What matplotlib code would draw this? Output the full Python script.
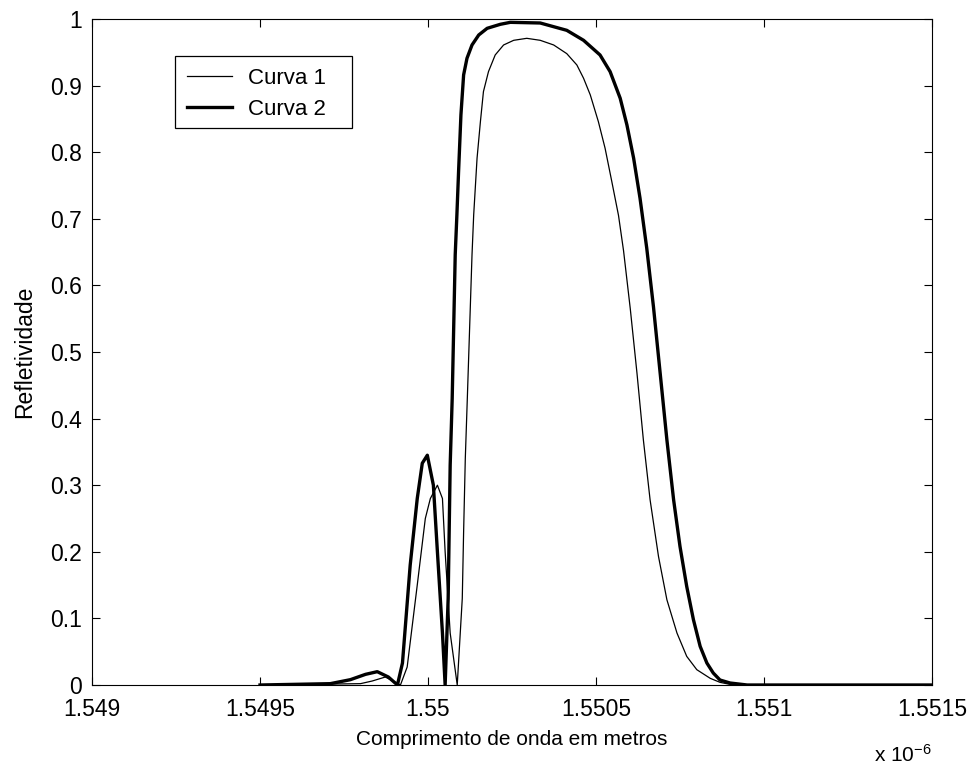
import matplotlib
matplotlib.use("Agg")
import matplotlib.pyplot as plt
from matplotlib.patches import Rectangle

plt.rcParams['font.family'] = ['Liberation Sans', 'DejaVu Sans']
plt.rcParams['mathtext.default'] = 'regular'

# wavelength in units of 1e-6 m
wl_curva1 = [1.5495, 1.549799, 1.549834, 1.549873, 1.549918, 1.549938, 1.549968,
             1.549992, 1.550007, 1.550028, 1.550043, 1.550051, 1.550066, 1.550087,
             1.550102, 1.550106, 1.550111, 1.550117, 1.550131, 1.550136, 1.550146,
             1.550156, 1.550165, 1.550180, 1.550200, 1.550225, 1.550255, 1.550294,
             1.550334, 1.550374, 1.550413, 1.550443, 1.550463, 1.550483, 1.550507,
             1.550527, 1.550547, 1.550567, 1.550582, 1.550602, 1.550622, 1.550641,
             1.550661, 1.550686, 1.550711, 1.550741, 1.550770, 1.550800, 1.550840,
             1.550869, 1.550908, 1.5515]
refl_curva1 = [0.0, 0.002, 0.006, 0.012, 0.0, 0.027, 0.15,
               0.25, 0.28, 0.30, 0.28, 0.20, 0.078, 0.0,
               0.13, 0.23, 0.34, 0.43, 0.646, 0.706, 0.791,
               0.846, 0.891, 0.921, 0.946, 0.961, 0.968, 0.971,
               0.968, 0.961, 0.948, 0.931, 0.911, 0.886, 0.846,
               0.806, 0.756, 0.705, 0.652, 0.565, 0.468, 0.368,
               0.278, 0.193, 0.128, 0.078, 0.043, 0.023, 0.01,
               0.004, 0.0, 0.0]

wl_curva2 = [1.5495, 1.549709, 1.549769, 1.549814, 1.549849, 1.549882, 1.549909,
             1.549924, 1.549947, 1.549968, 1.549983, 1.549998, 1.550016, 1.550028,
             1.550043, 1.550051, 1.550060, 1.550066, 1.550072, 1.550081, 1.550086,
             1.550091, 1.550098, 1.550106, 1.550116, 1.550131, 1.550151, 1.550176,
             1.550215, 1.550245, 1.550334, 1.550413, 1.550463, 1.550512, 1.550542,
             1.550572, 1.550592, 1.550612, 1.550631, 1.550651, 1.550671, 1.550691,
             1.550711, 1.550731, 1.550750, 1.550770, 1.550790, 1.550810, 1.550830,
             1.550849, 1.550869, 1.550899, 1.550950, 1.5515]
refl_curva2 = [0.0, 0.002, 0.008, 0.016, 0.02, 0.012, 0.0,
               0.033, 0.18, 0.28, 0.333, 0.345, 0.30, 0.20,
               0.078, 0.0, 0.13, 0.33, 0.43, 0.646, 0.706,
               0.771, 0.856, 0.916, 0.941, 0.961, 0.976, 0.986,
               0.992, 0.995, 0.994, 0.983, 0.968, 0.946, 0.921,
               0.881, 0.841, 0.791, 0.731, 0.656, 0.568, 0.468,
               0.368, 0.278, 0.208, 0.148, 0.098, 0.058, 0.033,
               0.018, 0.0075, 0.003, 0.0, 0.0]

labels = ['Curva 1', 'Curva 2']
xticks = [1.549, 1.5495, 1.55, 1.5505, 1.551, 1.5515]
xticklabels = ['1.549', '1.5495', '1.55', '1.5505', '1.551', '1.5515']
yticks = [0, 0.1, 0.2, 0.3, 0.4, 0.5, 0.6, 0.7, 0.8, 0.9, 1]
yticklabels = ['0', '0.1', '0.2', '0.3', '0.4', '0.5', '0.6', '0.7', '0.8', '0.9', '1']

fig = plt.figure(figsize=(9.73, 7.65), dpi=100)
ax = fig.add_axes([92 / 973, 1 - 685 / 765, (932 - 92) / 973, (685 - 19) / 765])

ax.plot(wl_curva1, refl_curva1, color='black', lw=0.9, label=labels[0])
ax.plot(wl_curva2, refl_curva2, color='black', lw=2.4, label=labels[1])

ax.set_xlim(1.549, 1.5515)
ax.set_ylim(0, 1)
ax.set_xticks(xticks)
ax.set_xticklabels(xticklabels)
ax.set_yticks(yticks)
ax.set_yticklabels(yticklabels)
ax.tick_params(direction='in', length=6, width=0.8, top=True, right=True,
               labelsize=16.5, colors='black')
ax.tick_params(axis='x', pad=9)
ax.tick_params(axis='y', pad=7)
for s in ax.spines.values():
    s.set_linewidth(0.8)
    s.set_color('black')

ax.set_xlabel('Comprimento de onda em metros', fontsize=15, labelpad=7)
ax.set_ylabel('Refletividade', fontsize=16.5, labelpad=10)

# legend box (MATLAB style, with wider right padding)
bx0, bx1 = (175 - 92) / 840, (352 - 92) / 840
by0, by1 = (685 - 128) / 666, (685 - 56) / 666
ax.add_patch(Rectangle((bx0, by0), bx1 - bx0, by1 - by0, transform=ax.transAxes,
                       facecolor='white', edgecolor='black', linewidth=0.9, zorder=4))
leg = ax.legend(loc='upper left', bbox_to_anchor=(bx0, by1), borderaxespad=0,
                fontsize=16, frameon=False, handlelength=2.0,
                handletextpad=0.75, borderpad=0.55, labelspacing=0.45)
leg.set_zorder(5)

fig.text(932 / 973, 1 - 755 / 765, 'x 10$^{-6}$', ha='right', va='center', fontsize=15)

fig.savefig('out.png', dpi=100)
